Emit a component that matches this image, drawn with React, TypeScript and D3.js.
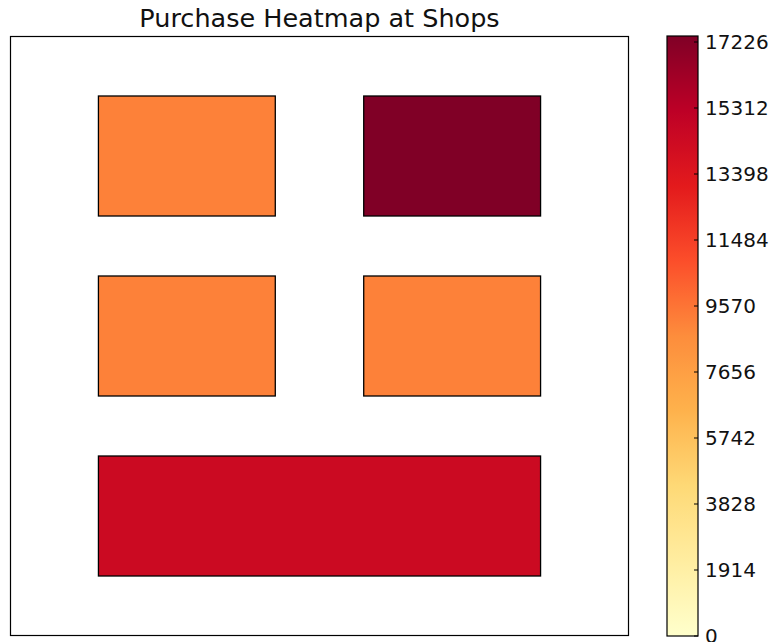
import * as d3 from 'd3';

// shop footprints in floor-plan units, plus total purchases per shop
const shopNames = ['Shop A', 'Shop B', 'Shop C', 'Shop D', 'Shop E'];
const shopX0 = [1, 4, 1, 4, 1];
const shopX1 = [3, 6, 3, 6, 6];
const shopY0 = [7, 7, 4, 4, 1];
const shopY1 = [9, 9, 6, 6, 3];
const purchases = [9100, 17400, 9100, 9100, 14400];

const colorMax = 17400;
const colorbarTicks = [0, 1914, 3828, 5742, 7656, 9570, 11484, 13398, 15312, 17226];

// matplotlib YlOrRd stops
const ylOrRd = ['#ffffcc', '#ffeda0', '#fed976', '#feb24c', '#fd8d3c', '#fc4e2a', '#e31a1c', '#bd0026', '#800026'];

const W = 772;
const H = 642;
const plot = { left: 10, right: 629, top: 36, bottom: 636 };
const bar = { left: 667, right: 698 };
const font = '"DejaVu Sans", sans-serif';

export default function App() {
  const x = d3.scaleLinear().domain([0, 7]).range([plot.left, plot.right]);
  const y = d3.scaleLinear().domain([0, 10]).range([plot.bottom, plot.top]);
  const color = d3
    .scaleLinear<string>()
    .domain(ylOrRd.map((_, i) => (i / (ylOrRd.length - 1)) * colorMax))
    .range(ylOrRd)
    .interpolate(d3.interpolateRgb);
  const cy = d3.scaleLinear().domain([0, colorMax]).range([plot.bottom, plot.top]);

  const stops = d3.range(0, 1.0001, 1 / 32);

  return (
    <svg
      width={W}
      height={H}
      style={{ position: 'fixed', left: 0, top: 0, background: '#fff' }}
      fontFamily={font}
    >
      <defs>
        <linearGradient id="cbar" x1="0" y1="1" x2="0" y2="0">
          {stops.map(t => (
            <stop key={t} offset={t} stopColor={color(t * colorMax)} />
          ))}
        </linearGradient>
      </defs>

      <text
        x={(plot.left + plot.right) / 2}
        y={27}
        textAnchor="middle"
        fontSize={25.5}
        fill="#111"
      >
        Purchase Heatmap at Shops
      </text>

      <rect
        x={plot.left + 0.5}
        y={plot.top + 0.5}
        width={plot.right - plot.left - 1}
        height={plot.bottom - plot.top - 1}
        fill="#fff"
        stroke="#000"
        strokeWidth={1.2}
      />

      {shopNames.map((name, i) => (
        <rect
          key={name}
          x={x(shopX0[i])}
          y={y(shopY1[i])}
          width={x(shopX1[i]) - x(shopX0[i])}
          height={y(shopY0[i]) - y(shopY1[i])}
          fill={color(purchases[i])}
          stroke="#000"
          strokeWidth={1.3}
        />
      ))}

      <rect
        x={bar.left}
        y={plot.top}
        width={bar.right - bar.left}
        height={plot.bottom - plot.top}
        fill="url(#cbar)"
        stroke="#000"
        strokeWidth={1.2}
      />
      {colorbarTicks.map(v => (
        <g key={v}>
          <line
            x1={bar.right - 4}
            x2={bar.right}
            y1={cy(v)}
            y2={cy(v)}
            stroke="#000"
            strokeWidth={1}
          />
          <text
            x={bar.right + 7}
            y={cy(v)}
            dy="0.36em"
            fontSize={20}
            fill="#111"
          >
            {v}
          </text>
        </g>
      ))}
    </svg>
  );
}
